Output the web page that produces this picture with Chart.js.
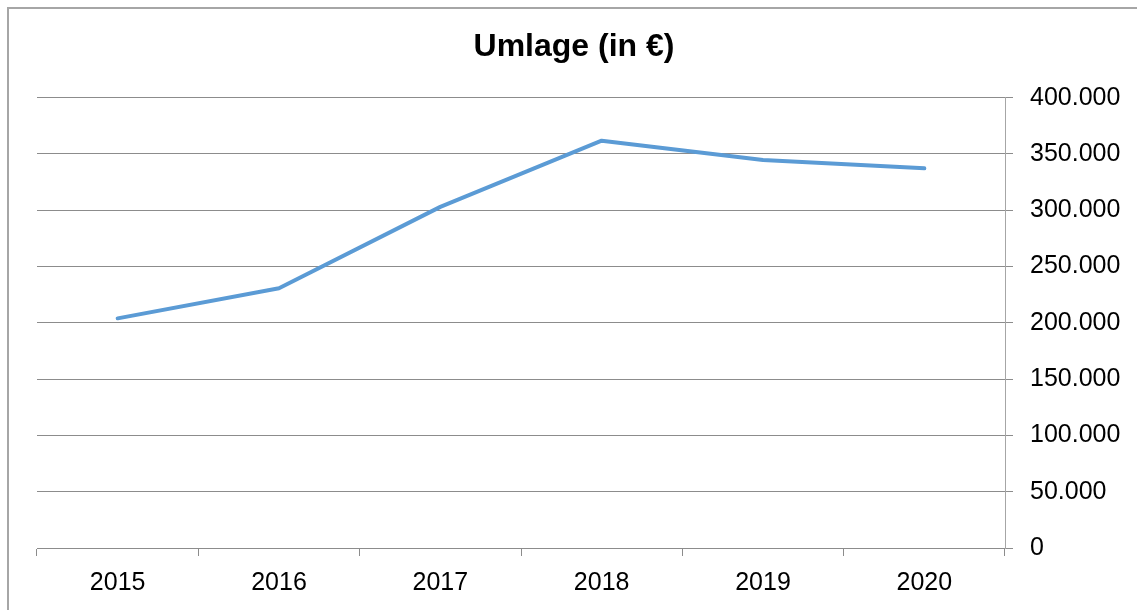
<!DOCTYPE html>
<html>
<head>
<meta charset="utf-8">
<script src="https://cdn.jsdelivr.net/npm/chart.js@4/dist/chart.umd.min.js"></script>
<style>
  html, body { margin: 0; padding: 0; background: #fff; overflow: hidden; }
  #frame { position: absolute; left: 7px; top: 7px; width: 1200px; height: 700px; border: 2px solid #a6a6a6; box-sizing: border-box; }
  #wrap { position: absolute; left: 0; top: 0; width: 1137px; height: 610px; }
</style>
</head>
<body>
<div id="frame"></div>
<div id="wrap"><canvas id="umlagechart"></canvas></div>
<script>
const years = ["2015", "2016", "2017", "2018", "2019", "2020"];
const umlage = [204000, 230700, 303000, 361800, 344700, 337300];
const yTicks = [0, 50000, 100000, 150000, 200000, 250000, 300000, 350000, 400000];

function formatDe(v) {
    return String(v).replace(/\B(?=(\d{3})+(?!\d))/g, ".");
}

createChart();

function createChart() {
    var ctx = document.getElementById('umlagechart').getContext('2d');
    new Chart(ctx, {
        type: 'line',
        data: {
            labels: years,
            datasets: [{
                data: umlage,
                label: "Umlage",
                yAxisID: 'y',
                xAxisID: 'x',
                borderColor: "#5b9bd5",
                backgroundColor: "#5b9bd5",
                borderWidth: 4,
                borderCapStyle: 'round',
                borderJoinStyle: 'round',
                pointRadius: 0,
                tension: 0,
                fill: false
            }]
        },
        options: {
            responsive: true,
            maintainAspectRatio: false,
            animation: false,
            layout: { padding: { left: 11, right: 0, top: 0, bottom: 0 } },
            plugins: {
                legend: { display: false },
                tooltip: { enabled: false },
                title: {
                    display: true,
                    text: "Umlage (in €)",
                    color: "#000",
                    font: { family: "Arial, 'Liberation Sans', sans-serif", size: 32, weight: 'bold' },
                    padding: { top: 28, bottom: 31.3 }
                }
            },
            scales: {
                x: {
                    offset: true,
                    grid: {
                        offset: true,
                        drawOnChartArea: false,
                        drawTicks: true,
                        tickLength: 8,
                        color: "#8c8c8c"
                    },
                    border: { display: true, color: "#8c8c8c" },
                    ticks: {
                        color: "#000",
                        padding: 12,
                        font: { family: "Arial, 'Liberation Sans', sans-serif", size: 25 }
                    },
                    afterFit: function (scale) { scale.height = 62; }
                },
                y: {
                    position: 'right',
                    min: 0,
                    max: 400000,
                    afterBuildTicks: function (scale) {
                        scale.ticks = yTicks.map(v => ({ value: v }));
                    },
                    grid: {
                        color: "#8c8c8c",
                        tickLength: 8,
                        drawTicks: true
                    },
                    border: { display: true, color: "#a6a6a6" },
                    ticks: {
                        color: "#000",
                        padding: 17,
                        font: { family: "Arial, 'Liberation Sans', sans-serif", size: 25 },
                        callback: function (v) { return formatDe(v); }
                    },
                    afterFit: function (scale) { scale.width = 132; }
                },
                // empty spacer on the left so the title stays centred like the original
                spacer: {
                    type: 'linear',
                    position: 'left',
                    grid: { display: false },
                    border: { display: false },
                    ticks: { display: false },
                    afterFit: function (scale) { scale.width = 26; }
                }
            }
        }
    });
}
</script>
</body>
</html>
